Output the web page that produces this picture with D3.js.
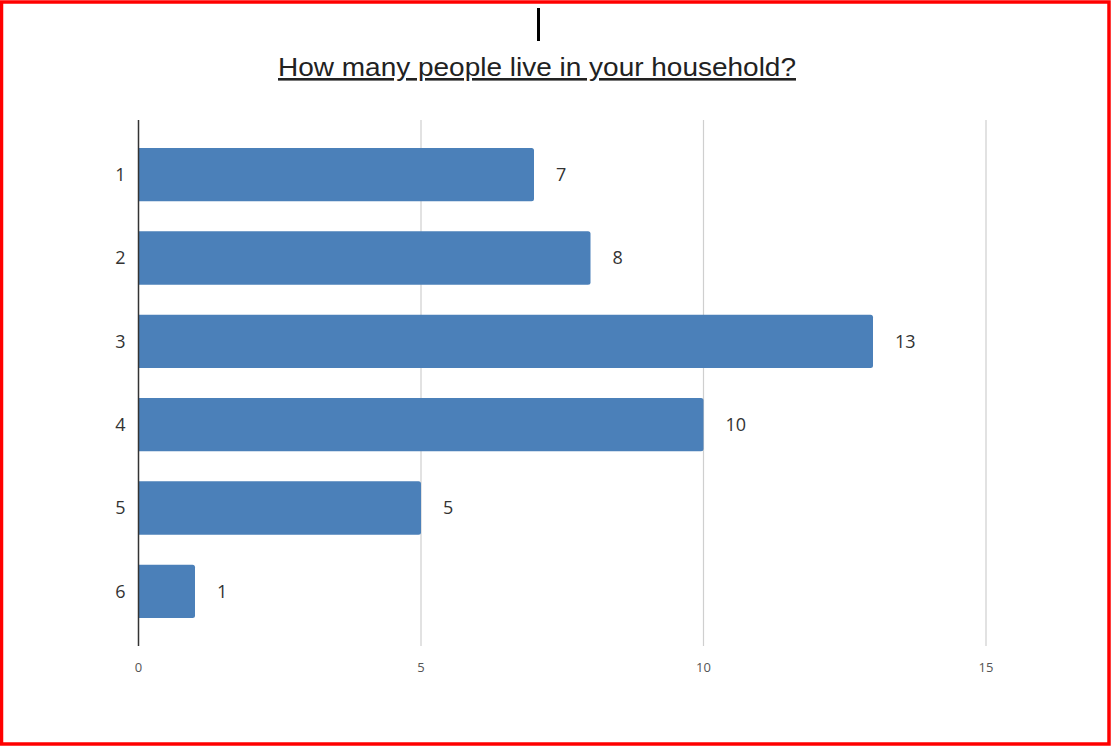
<!DOCTYPE html>
<html>
<head>
<meta charset="utf-8">
<script src="https://cdn.jsdelivr.net/npm/d3@7"></script>
<style>
  body { margin: 0; background: #fff; }
  svg { display: block; }
</style>
</head>
<body>
<script>
// data
const categories = ['1', '2', '3', '4', '5', '6'];
const counts = [7, 8, 13, 10, 5, 1];
const xTicks = [0, 5, 10, 15];
const title = 'How many people live in your household?';

const width = 1112;
const height = 747;
const marginTop = 120;
const marginBottom = 101;
const marginLeft = 138.5;
const marginRight = 126;

const svg = d3.select('body')
  .append('svg')
  .attr('width', width)
  .attr('height', height);

// red frame
svg.append('rect')
  .attr('x', 1.5)
  .attr('y', 2)
  .attr('width', width - 4.5)
  .attr('height', height - 5)
  .attr('fill', 'none')
  .attr('stroke', '#ff0000')
  .attr('stroke-width', 3.5);

// text cursor above the title
svg.append('line')
  .attr('x1', 538.5).attr('x2', 538.5)
  .attr('y1', 8).attr('y2', 41)
  .attr('stroke', '#000')
  .attr('stroke-width', 3);

svg.append('text')
  .attr('x', 537)
  .attr('y', 76)
  .attr('text-anchor', 'middle')
  .attr('font-family', 'Liberation Sans, Arial, sans-serif')
  .attr('font-size', 26)
  .attr('textLength', 518)
  .attr('lengthAdjust', 'spacingAndGlyphs')
  .attr('fill', '#222')
  .attr('text-decoration', 'underline')
  .text(title);

const x = d3.scaleLinear()
  .domain([0, 15])
  .range([marginLeft, width - marginRight]);

const y = d3.scaleBand()
  .domain(categories)
  .range([marginTop, height - marginBottom])
  .paddingInner(0.36)
  .paddingOuter(0.335);

const chart_g = svg.append('g');

// vertical gridlines
chart_g.selectAll('line.grid')
  .data(xTicks.filter(d => d > 0))
  .enter()
  .append('line')
  .attr('class', 'grid')
  .attr('x1', d => x(d)).attr('x2', d => x(d))
  .attr('y1', marginTop).attr('y2', height - marginBottom)
  .attr('stroke', '#cfcfcf')
  .attr('stroke-width', 1.2);

// bars
chart_g.selectAll('path.bar')
  .data(counts)
  .enter()
  .append('path')
  .attr('class', 'bar')
  .attr('d', (d, i) => {
    const x0 = x(0), x1 = x(d), y0 = y(categories[i]), h = y.bandwidth(), r = 2.5;
    return `M${x0},${y0}H${x1 - r}Q${x1},${y0} ${x1},${y0 + r}V${y0 + h - r}Q${x1},${y0 + h} ${x1 - r},${y0 + h}H${x0}Z`;
  })
  .attr('fill', '#4b80b9');

// value labels
chart_g.selectAll('text.value')
  .data(counts)
  .enter()
  .append('text')
  .attr('class', 'value')
  .attr('x', d => x(d) + 22)
  .attr('y', (d, i) => y(categories[i]) + y.bandwidth() / 2)
  .attr('dy', '.35em')
  .attr('font-family', 'Open Sans, sans-serif')
  .attr('font-size', 18)
  .attr('fill', '#333')
  .text(d => d);

// y axis line
chart_g.append('line')
  .attr('x1', x(0)).attr('x2', x(0))
  .attr('y1', marginTop).attr('y2', height - marginBottom)
  .attr('stroke', '#333')
  .attr('stroke-width', 1.5);

// category labels
chart_g.selectAll('text.cat')
  .data(categories)
  .enter()
  .append('text')
  .attr('class', 'cat')
  .attr('x', x(0) - 13)
  .attr('y', d => y(d) + y.bandwidth() / 2)
  .attr('dy', '.35em')
  .attr('text-anchor', 'end')
  .attr('font-family', 'Open Sans, sans-serif')
  .attr('font-size', 18)
  .attr('fill', '#333')
  .text(d => d);

// x tick labels
chart_g.selectAll('text.tick')
  .data(xTicks)
  .enter()
  .append('text')
  .attr('class', 'tick')
  .attr('x', d => x(d))
  .attr('y', height - marginBottom + 26)
  .attr('text-anchor', 'middle')
  .attr('font-family', 'Open Sans, sans-serif')
  .attr('font-size', 13)
  .attr('fill', '#555')
  .text(d => d);
</script>
</body>
</html>
